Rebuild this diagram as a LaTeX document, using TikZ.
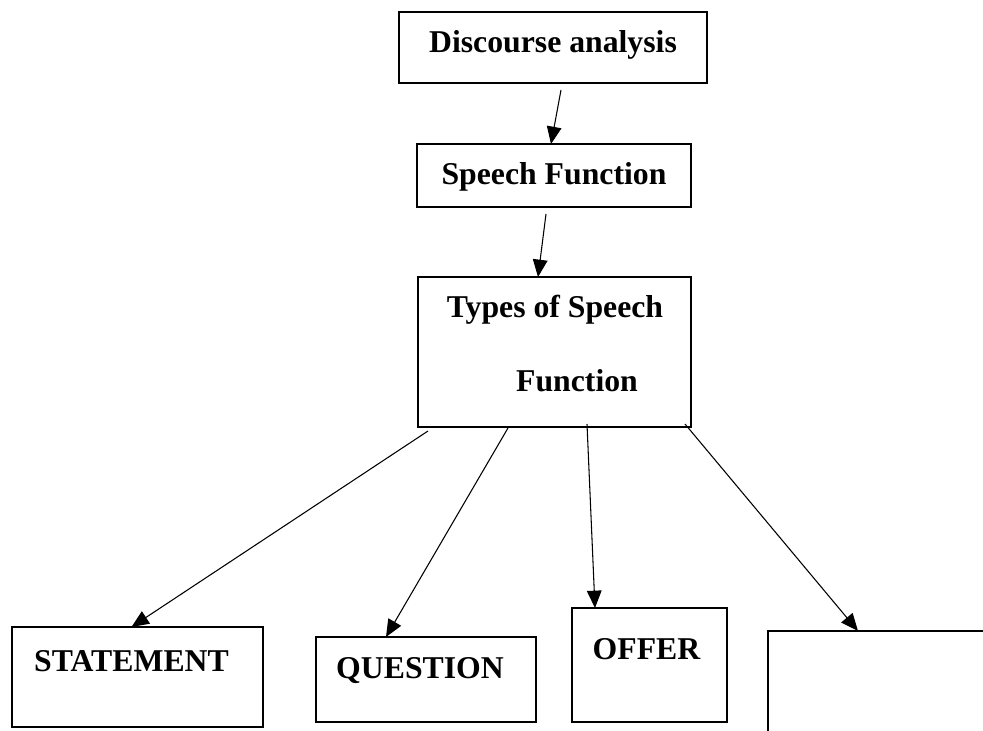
\documentclass[tikz,border=0pt]{standalone}
\usepackage{fontspec}
\setmainfont{Liberation Serif}
\usetikzlibrary{arrows.meta}
\begin{document}
\begin{tikzpicture}[x=0.75pt,y=-0.75pt,
  box/.style={draw, line width=1.9pt, inner sep=0pt, outer sep=0pt, anchor=north west},
  lbl/.style={anchor=base, inner sep=0pt, font=\fontsize{23.8pt}{28pt}\selectfont\bfseries},
  conn/.style={line width=0.8pt, -{Triangle[length=13pt,width=11pt]}}]
\useasboundingbox (0,0) rectangle (983,731);
\clip (0,0) rectangle (983,731);
% boxes
\node[box, minimum width=231pt, minimum height=53.25pt] (b1) at (399,12) {};
\node[box, minimum width=205.5pt, minimum height=47.25pt] (b2) at (417,144) {};
\node[box, minimum width=204.75pt, minimum height=112.5pt] (b3) at (418,277) {};
\node[box, minimum width=188.25pt, minimum height=75pt] (bS) at (12,627) {};
\node[box, minimum width=165pt, minimum height=63.75pt] (bQ) at (316,637) {};
\node[box, minimum width=116.25pt, minimum height=85.5pt] (bO) at (572,608) {};
\node[box, minimum width=195pt, minimum height=112.5pt] (b4) at (768,631) {};
% texts
\node[lbl] (t1) at (553,53) {Discourse analysis};
\node[lbl] (t2) at (554,185) {Speech Function};
\node[lbl] (t3a) at (555,318) {Types of Speech};
\node[lbl] (t3b) at (577,392) {Function};
\node[lbl] (tS) at (131.5,671) {STATEMENT};
\node[lbl] (tQ) at (420,678) {QUESTION};
\node[lbl] (tO) at (646.5,659) {OFFER};
% connectors
\draw[conn] ([shift={(8,7)}]b1.south) -- ([shift={(-3,0)}]b2.north);
\draw[conn] ([shift={(-8,7)}]b2.south) -- ([shift={(-16.5,0)}]b3.north);
\draw[conn] ([shift={(10,4)}]b3.south west) -- ([shift={(-6,0)}]bS.north);
\draw[conn] ([shift={(90,1)}]b3.south west) -- ([shift={(-40,0)}]bQ.north);
\draw[conn] ([shift={(169,-3)}]b3.south west) -- ([shift={(23,0)}]bO.north west);
\draw[conn] ([shift={(-6,-3)}]b3.south east) -- ([shift={(90,0)}]b4.north west);
\end{tikzpicture}
\end{document}
